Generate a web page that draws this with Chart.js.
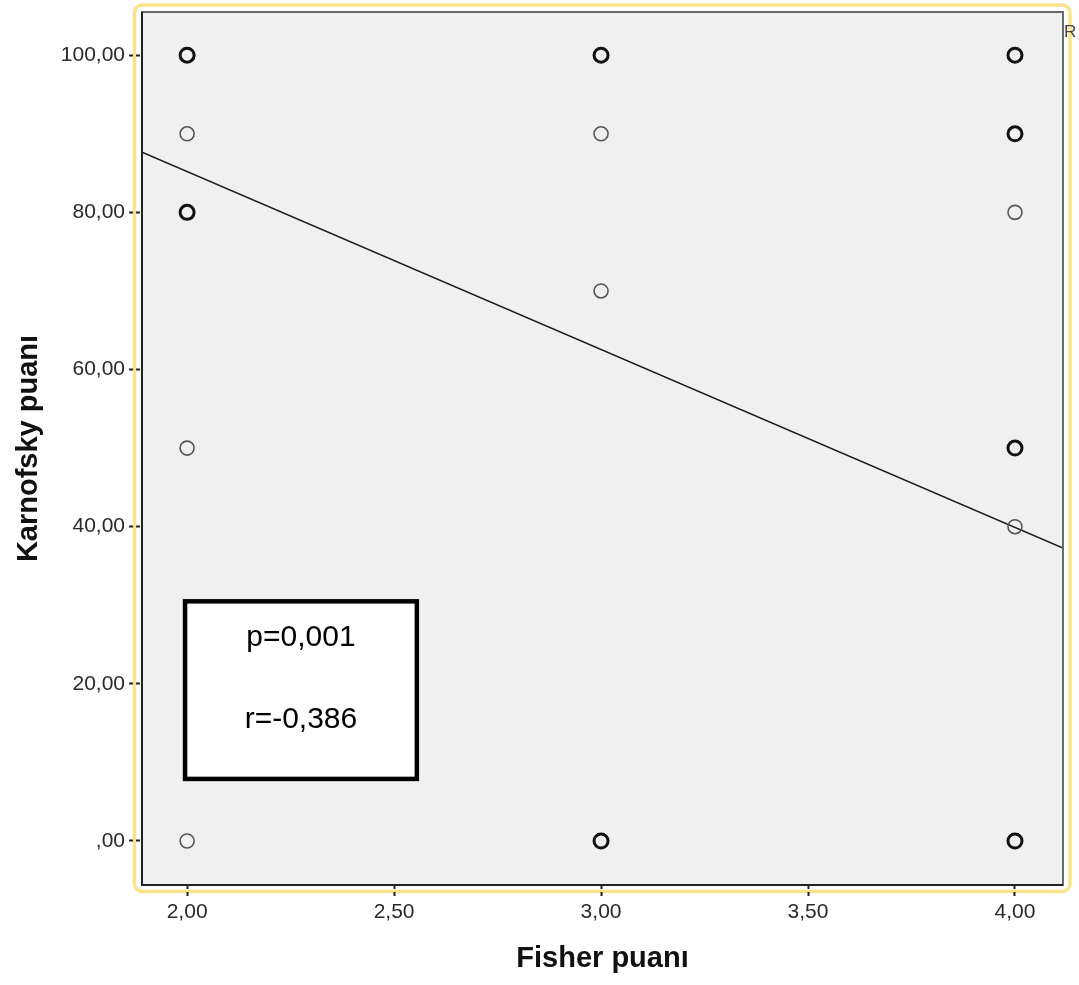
<!DOCTYPE html>
<html>
<head>
<meta charset="utf-8">
<script src="https://cdn.jsdelivr.net/npm/chart.js@4"></script>
<style>
  html, body { margin: 0; padding: 0; background: #fff; }
  #wrap { width: 1079px; height: 985px; position: relative; }
</style>
</head>
<body>
<div id="wrap"><canvas id="chart"></canvas></div>
<script>
"use strict";

// COUNT marks the circles drawn bold in the picture (overlapping cases).
const FISHER = [2, 2, 2, 2, 2, 3, 3, 3, 3, 4, 4, 4, 4, 4, 4];
const KARNOFSKY = [100, 90, 80, 50, 0, 100, 90, 70, 0, 100, 90, 80, 50, 40, 0];
const COUNT = [3, 1, 2, 1, 1, 2, 1, 1, 2, 3, 2, 1, 2, 1, 3];

// Fit line, endpoints at the plot edges.
const FIT_X = [1.891, 4.116];
const FIT_Y = [87.66, 37.28];

const X_TICKS = [2, 2.5, 3, 3.5, 4];
const X_TICK_LABELS = ["2,00", "2,50", "3,00", "3,50", "4,00"];
const Y_TICKS = [0, 20, 40, 60, 80, 100];
const Y_TICK_LABELS = [",00", "20,00", "40,00", "60,00", "80,00", "100,00"];

const STATS_LINES = ["p=0,001", "r=-0,386"];

const FONT = "Arial, 'Liberation Sans', sans-serif";

function tickLabel(values, labels) {
  return (v) => {
    const i = values.findIndex((t) => Math.abs(t - v) < 1e-6);
    return i >= 0 ? labels[i] : "";
  };
}

// SPSS-like frame: yellow selection border, grey plot area, text box.
const spssFrame = {
  id: "spssFrame",
  beforeDraw(chart) {
    const { ctx, chartArea: a } = chart;
    ctx.save();
    ctx.fillStyle = "#fff";
    ctx.fillRect(0, 0, chart.width, chart.height);
    ctx.strokeStyle = "#fbe38c";
    ctx.lineWidth = 3.5;
    ctx.beginPath();
    ctx.roundRect(a.left - 7.5, a.top - 7, a.right - a.left + 14.5, a.bottom - a.top + 13.5, 8);
    ctx.stroke();
    ctx.fillStyle = "#f0f0f0";
    ctx.fillRect(a.left, a.top, a.right - a.left, a.bottom - a.top);
    ctx.restore();
  },
  afterDraw(chart) {
    const { ctx, chartArea: a, scales } = chart;
    ctx.save();
    // plot border
    ctx.strokeStyle = "#6a6a6a";
    ctx.lineWidth = 2;
    ctx.strokeRect(a.left, a.top, a.right - a.left, a.bottom - a.top);
    ctx.strokeStyle = "#222";
    ctx.beginPath();
    ctx.moveTo(a.left, a.top);
    ctx.lineTo(a.left, a.bottom);
    ctx.lineTo(a.right, a.bottom);
    ctx.stroke();

    // stats box
    const x0 = scales.x.getPixelForValue(1.995);
    const x1 = scales.x.getPixelForValue(2.555);
    const y0 = scales.y.getPixelForValue(30.5);
    const y1 = scales.y.getPixelForValue(7.9);
    ctx.fillStyle = "#fff";
    ctx.fillRect(x0, y0, x1 - x0, y1 - y0);
    ctx.strokeStyle = "#000";
    ctx.lineWidth = 4.5;
    ctx.strokeRect(x0, y0, x1 - x0, y1 - y0);
    ctx.fillStyle = "#000";
    ctx.font = "30px " + FONT;
    ctx.textAlign = "center";
    ctx.textBaseline = "middle";
    const cx = (x0 + x1) / 2;
    ctx.fillText(STATS_LINES[0], cx, y0 + 36);
    ctx.fillText(STATS_LINES[1], cx, y0 + 118);

    // stray "R" marker at top right
    ctx.fillStyle = "#444";
    ctx.font = "17px " + FONT;
    ctx.textAlign = "left";
    ctx.fillText("R", a.right + 1, a.top + 20);
    ctx.restore();
  },
};

const points = FISHER.map((x, i) => ({ x, y: KARNOFSKY[i], n: COUNT[i] }));
const fit = FIT_X.map((x, i) => ({ x, y: FIT_Y[i] }));

new Chart(document.getElementById("chart"), {
  type: "scatter",
  data: {
    datasets: [
      {
        label: "fit",
        type: "line",
        data: fit,
        borderColor: "#1a1a1a",
        borderWidth: 1.6,
        pointRadius: 0,
        fill: false,
        order: 2,
      },
      {
        label: "cases",
        data: points,
        pointRadius: 7,
        pointBackgroundColor: "rgba(0,0,0,0)",
        pointBorderColor: (c) => (c.raw && c.raw.n > 1 ? "#111" : "#555"),
        pointBorderWidth: (c) => (c.raw && c.raw.n > 1 ? 3 : 1.6),
        order: 1,
      },
    ],
  },
  options: {
    responsive: true,
    maintainAspectRatio: false,
    animation: false,
    layout: { padding: { top: 12, right: 16, left: 0, bottom: 0 } },
    plugins: { legend: { display: false }, tooltip: { enabled: false } },
    scales: {
      x: {
        type: "linear",
        min: 1.891,
        max: 4.116,
        afterBuildTicks: (s) => { s.ticks = X_TICKS.map((value) => ({ value })); },
        afterFit: (s) => { s.height = 100; s.paddingLeft = 0; s.paddingRight = 0; },
        ticks: {
          color: "#2a2a2a",
          font: { family: FONT, size: 21 },
          padding: 2,
          maxRotation: 0,
          callback: tickLabel(X_TICKS, X_TICK_LABELS),
        },
        grid: {
          drawOnChartArea: false,
          tickLength: 13,
          tickColor: "#222",
          tickWidth: 2,
          tickBorderDash: [4, 3],
        },
        border: { display: false },
        title: {
          display: true,
          text: "Fisher puanı",
          color: "#111",
          font: { family: FONT, size: 29, weight: "bold" },
          padding: { top: 0, bottom: 8.6 },
        },
      },
      y: {
        type: "linear",
        min: -5.6,
        max: 105.5,
        afterBuildTicks: (s) => { s.ticks = Y_TICKS.map((value) => ({ value })); },
        afterFit: (s) => { s.width = 142; s.paddingTop = 0; s.paddingBottom = 0; },
        ticks: {
          color: "#2a2a2a",
          font: { family: FONT, size: 21 },
          padding: 4,
          callback: tickLabel(Y_TICKS, Y_TICK_LABELS),
        },
        grid: {
          drawOnChartArea: false,
          tickLength: 13,
          tickColor: "#222",
          tickWidth: 2,
          tickBorderDash: [4, 3],
        },
        border: { display: false },
        title: {
          display: true,
          text: "Karnofsky puanı",
          color: "#111",
          font: { family: FONT, size: 29, weight: "bold" },
          padding: { top: 11.5, bottom: 0 },
        },
      },
    },
  },
  plugins: [spssFrame],
});
</script>
</body>
</html>
